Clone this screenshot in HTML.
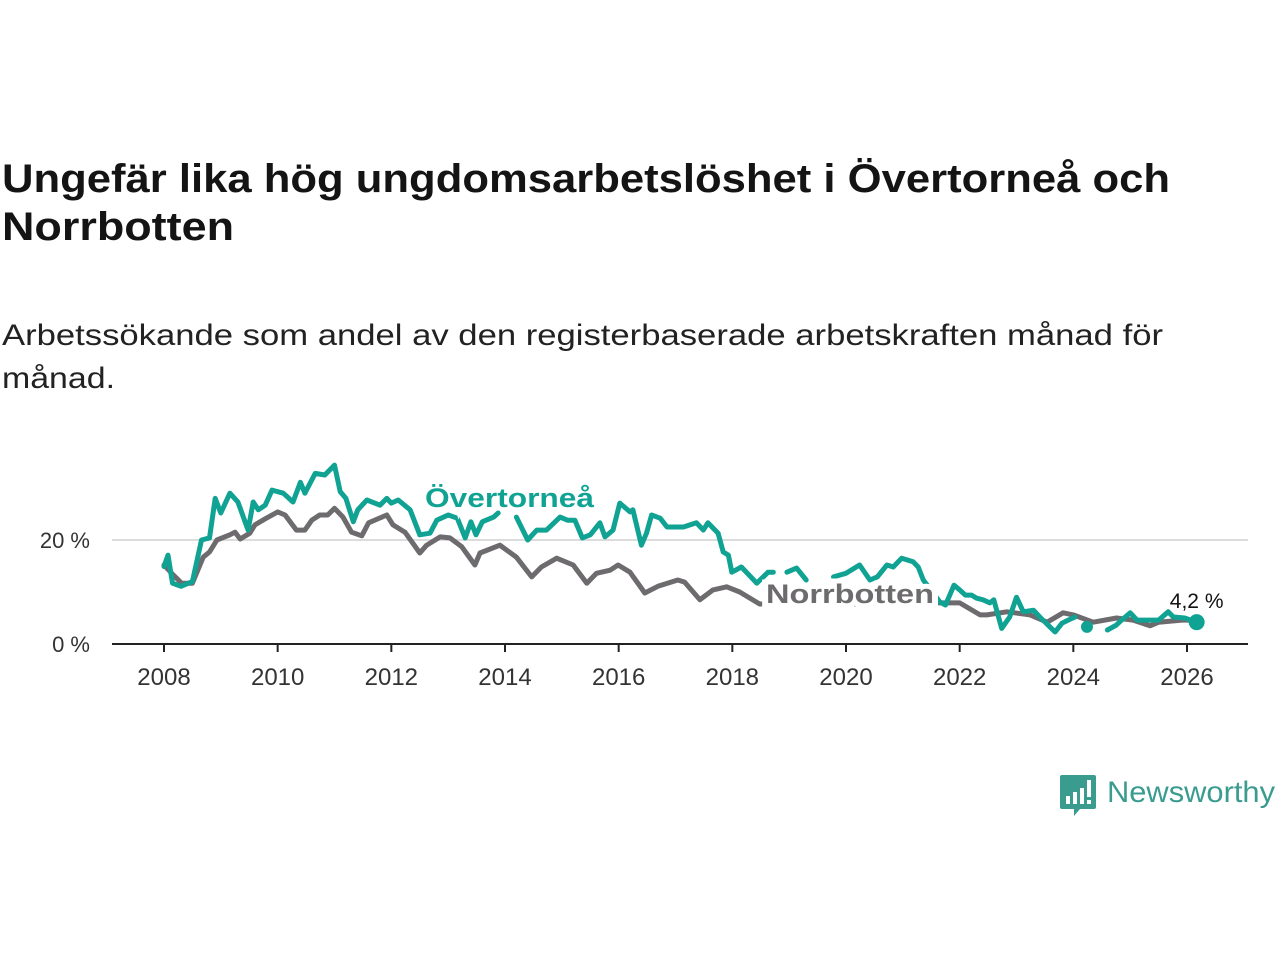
<!DOCTYPE html>
<html><head><meta charset="utf-8"><style>
html,body{margin:0;padding:0;background:#fff;}
svg{display:block;font-family:"Liberation Sans",sans-serif;}
</style></head><body>
<svg id="chart" width="1280" height="960" viewBox="0 0 1280 960" xmlns="http://www.w3.org/2000/svg">
<text x="2" y="192" font-size="40" font-weight="bold" fill="#141414" textLength="1168" lengthAdjust="spacingAndGlyphs">Ungefär lika hög ungdomsarbetslöshet i Övertorneå och</text>
<text x="2" y="240" font-size="40" font-weight="bold" fill="#141414" textLength="232" lengthAdjust="spacingAndGlyphs">Norrbotten</text>
<text x="2" y="345" font-size="30" fill="#222" textLength="1161" lengthAdjust="spacingAndGlyphs">Arbetssökande som andel av den registerbaserade arbetskraften månad för</text>
<text x="2" y="388" font-size="30" fill="#222" textLength="113" lengthAdjust="spacingAndGlyphs">månad.</text>
<g id="plot"></g>
<g>
<path d="M1062 775 h32 a2 2 0 0 1 2 2 v30 a2 2 0 0 1 -2 2 h-14 l-6 7 v-7 h-12 a2 2 0 0 1 -2 -2 v-30 a2 2 0 0 1 2 -2z" fill="#3a9b8f"/>
<rect x="1066" y="796" width="4" height="8" fill="#fff"/>
<rect x="1073" y="792" width="4" height="12" fill="#fff"/>
<rect x="1080" y="788" width="4" height="16" fill="#fff"/>
<rect x="1087" y="780" width="4" height="17" fill="#fff"/>
<rect x="1087" y="800" width="4" height="4" fill="#fff"/>
<text x="1107" y="802" font-size="30" fill="#3a9b8f" textLength="168" lengthAdjust="spacingAndGlyphs">Newsworthy</text>
</g>
</svg>
<script>
const xTicks = [2008, 2010, 2012, 2014, 2016, 2018, 2020, 2022, 2024, 2026];
const yTicks = [0, 20];
const yTickLabels = ["0 %", "20 %"];
const overDates = [2008.0,2008.07,2008.15,2008.3,2008.5,2008.66,2008.8,2008.9,2009.0,2009.16,2009.3,2009.48,2009.57,2009.66,2009.78,2009.9,2010.1,2010.27,2010.4,2010.48,2010.66,2010.83,2011.0,2011.1,2011.2,2011.33,2011.41,2011.57,2011.8,2011.92,2012.0,2012.12,2012.33,2012.5,2012.68,2012.8,2013.0,2013.16,2013.3,2013.4,2013.49,2013.6,2013.8,2013.88,2014.0,2014.2,2014.4,2014.56,2014.73,2014.97,2015.1,2015.23,2015.36,2015.5,2015.67,2015.76,2015.9,2016.02,2016.2,2016.25,2016.4,2016.49,2016.58,2016.73,2016.85,2017.14,2017.37,2017.49,2017.57,2017.75,2017.84,2017.93,2017.99,2018.16,2018.43,2018.63,2018.72,2018.85,2018.96,2019.13,2019.3,2019.55,2019.78,2020.0,2020.24,2020.42,2020.55,2020.72,2020.83,2020.98,2021.18,2021.27,2021.36,2021.65,2021.75,2021.9,2022.0,2022.1,2022.21,2022.3,2022.41,2022.53,2022.6,2022.74,2022.88,2023.0,2023.12,2023.3,2023.41,2023.56,2023.68,2023.8,2023.91,2024.03,2024.13,2024.24,2024.4,2024.6,2024.75,2024.85,2025.0,2025.12,2025.3,2025.5,2025.67,2025.76,2025.96,2026.17];
const overValues = [14.9,17.1,11.7,11.1,12,20,20.4,28,25.2,29,27.3,21.9,27.3,25.8,26.7,29.6,29,27.3,31.1,29,32.8,32.5,34.4,29.3,28,23.5,25.8,27.7,26.7,28,27.1,27.7,25.8,21,21.3,23.8,24.8,24.2,20.4,23.5,21,23.5,24.4,25.2,null,24.4,20,21.9,21.9,24.4,23.8,23.8,20.4,21,23.3,20.6,21.9,27.1,25.4,25.8,19,21.3,24.8,24.2,22.5,22.5,23.3,21.9,23.3,21.3,17.7,17.1,13.8,14.8,11.7,13.8,13.8,null,13.8,14.6,12.3,null,12.9,13.6,15.2,12.3,12.9,15.2,14.8,16.5,15.8,14.8,12.3,8.1,7.5,11.3,10.4,9.4,9.4,8.8,8.5,7.9,8.5,3,5.2,9,6.2,6.5,5.2,3.6,2.3,4,4.6,5.2,null,3.3,null,2.7,3.6,4.6,6,4.6,4.6,4.6,6.2,5.2,5,4.2];
const norrDates = [2008.0,2008.16,2008.31,2008.5,2008.69,2008.8,2008.93,2009.16,2009.25,2009.34,2009.51,2009.6,2009.8,2010.0,2010.13,2010.33,2010.48,2010.6,2010.74,2010.88,2011.0,2011.15,2011.3,2011.48,2011.6,2011.92,2012.03,2012.24,2012.5,2012.62,2012.86,2013.03,2013.24,2013.47,2013.56,2013.91,2014.2,2014.47,2014.64,2014.91,2015.2,2015.44,2015.61,2015.85,2015.99,2016.2,2016.46,2016.69,2017.04,2017.16,2017.43,2017.66,2017.9,2018.13,2018.48,2019.0,2019.5,2020.0,2020.5,2021.0,2021.65,2022.0,2022.36,2022.48,2022.83,2023.24,2023.54,2023.82,2024.0,2024.35,2024.76,2025.05,2025.35,2025.5,2025.91,2026.1];
const norrValues = [15.2,13.3,11.7,11.7,16.7,17.7,20,21,21.5,20.2,21.3,22.9,24.2,25.4,24.8,21.9,21.9,23.8,24.8,24.8,26.1,24.4,21.5,20.8,23.3,24.8,22.9,21.5,17.5,19,20.6,20.4,18.7,15.2,17.5,19,16.7,12.9,14.8,16.5,15.2,11.7,13.6,14.2,15.2,13.8,9.8,11.1,12.3,11.9,8.5,10.4,11,10,7.7,7.6,7.8,7.7,7.8,7.9,7.9,7.9,5.6,5.6,6.2,5.6,4.2,6,5.6,4.2,5,4.6,3.5,4.2,4.6,4.6];
const lastLabel = "4,2 %";

const NS = "http://www.w3.org/2000/svg";
const plot = document.getElementById('plot');
const X0 = 2008, X1 = 2026, PX0 = 164, PX1 = 1187;
const Y0 = 0, Y1 = 20, PY0 = 644, PY1 = 540;
function xs(v){ return PX0 + (v - X0) / (X1 - X0) * (PX1 - PX0); }
function ys(v){ return PY0 + (v - Y0) / (Y1 - Y0) * (PY1 - PY0); }
function mk(tag, attrs){ const e = document.createElementNS(NS, tag); for (const k in attrs) e.setAttribute(k, attrs[k]); plot.appendChild(e); return e; }

yTicks.forEach((t, i) => {
  if (t !== 0) {
    const g = mk('line', {x1:112, x2:1248, y1:ys(t), y2:ys(t), stroke:'#dcdcdc', 'stroke-width':2});
    
    
  }
  const l = mk('text', {x:90, y:ys(t)+8, 'font-size':22, fill:'#333', 'text-anchor':'end'});
  l.textContent = yTickLabels[i];
  
  
});
const ax = mk('line', {x1:112, x2:1248, y1:PY0, y2:PY0, stroke:'#222', 'stroke-width':2});


xTicks.forEach(t => {
  const tk = mk('line', {x1:xs(t), x2:xs(t), y1:PY0, y2:PY0+8, stroke:'#222', 'stroke-width':2});
  
  
  const l = mk('text', {x:xs(t), y:PY0+41, 'font-size':24, fill:'#333', 'text-anchor':'middle'});
  l.textContent = String(t);
  
  
});

function drawSeries(dates, vals, color, name){
  let segs = [], cur = [];
  dates.forEach((d, i) => {
    if (vals[i] === null) { if (cur.length) segs.push(cur); cur = []; }
    else cur.push([xs(d), ys(vals[i])]);
  });
  if (cur.length) segs.push(cur);
  segs.forEach(s => {
    if (s.length === 1) {
      const c = mk('circle', {cx:s[0][0], cy:s[0][1], r:6, fill:color});
      
      
    } else {
      const p = mk('path', {d:'M' + s.map(q => q[0].toFixed(1) + ',' + q[1].toFixed(1)).join('L'), fill:'none', stroke:color, 'stroke-width':5, 'stroke-linejoin':'round', 'stroke-linecap':'round'});
      
      
    }
  });
}
drawSeries(norrDates, norrValues, '#6d6b6e', 'norrbotten');
drawSeries(overDates, overValues, '#10a393', 'overtornea');

const n = overDates.length - 1;
const dot = mk('circle', {cx:xs(overDates[n]), cy:ys(overValues[n]), r:8, fill:'#10a393'});


const lv = mk('text', {x:xs(overDates[n]), y:ys(overValues[n]) - 14, 'font-size':21, fill:'#111', 'text-anchor':'middle', stroke:'#fff', 'stroke-width':5, 'paint-order':'stroke'});
lv.textContent = lastLabel;



const l1 = mk('text', {x:425, y:507, 'font-size':27, 'font-weight':'bold', fill:'#10a393', stroke:'#fff', 'stroke-width':8, 'paint-order':'stroke', textLength:169, lengthAdjust:'spacingAndGlyphs'});
l1.textContent = 'Övertorneå';


const l2 = mk('text', {x:766, y:603, 'font-size':27, 'font-weight':'bold', fill:'#6d6b6e', stroke:'#fff', 'stroke-width':10, 'paint-order':'stroke', textLength:168, lengthAdjust:'spacingAndGlyphs'});
l2.textContent = 'Norrbotten';


</script>
</body></html>
